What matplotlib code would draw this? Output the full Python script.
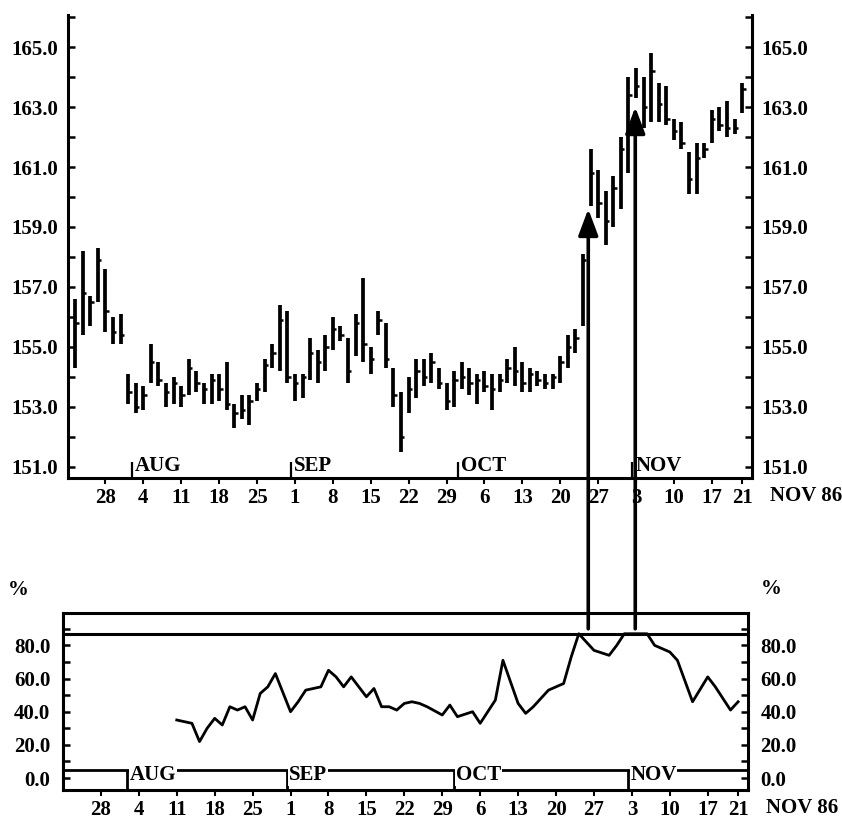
import pandas as pd
import matplotlib
matplotlib.use('Agg')
import matplotlib.pyplot as plt
from matplotlib.patches import ConnectionPatch
from matplotlib.ticker import FixedLocator, MultipleLocator
from matplotlib.transforms import blended_transform_factory

plt.rcParams['font.family'] = ['Liberation Serif', 'DejaVu Serif']
plt.rcParams['font.weight'] = 'bold'
plt.rcParams['font.size'] = 15

# daily bars, 22 Jul - 21 Nov 1986
dates = pd.bdate_range('1986-07-22', '1986-11-21')

highs = [156.6, 158.2, 156.7, 158.3, 157.6, 156.0, 156.1, 154.1, 153.8, 153.7,
         155.1, 154.5, 153.8, 154.0, 153.7, 154.6, 154.2, 153.8, 154.1, 154.1,
         154.5, 153.1, 153.4, 153.4, 153.8, 154.6, 155.1, 156.4, 156.2, 154.1,
         154.1, 155.3, 154.9, 155.4, 156.0, 155.7, 155.3, 156.1, 157.3, 155.0,
         156.2, 155.8, 154.3, 153.5, 154.0, 154.6, 154.6, 154.8, 154.3, 153.8,
         154.2, 154.5, 154.3, 154.1, 154.2, 154.1, 154.1, 154.6, 155.0, 154.5,
         154.3, 154.2, 154.1, 154.1, 154.7, 155.4, 155.6, 158.1, 161.6, 160.9,
         160.2, 160.7, 162.0, 164.0, 164.3, 164.0, 164.8, 163.8, 163.7, 162.6,
         162.5, 161.5, 161.8, 161.8, 162.9, 163.0, 163.2, 162.6, 163.8]
lows = [154.3, 155.4, 155.7, 156.5, 155.5, 155.1, 155.1, 153.1, 152.8, 152.9,
        153.8, 153.7, 153.0, 153.1, 153.0, 153.4, 153.5, 153.1, 153.1, 153.2,
        152.9, 152.3, 152.6, 152.4, 153.2, 153.5, 154.3, 154.2, 153.8, 153.2,
        153.3, 153.9, 153.8, 154.2, 154.9, 155.2, 153.8, 154.7, 154.5, 154.1,
        155.4, 154.3, 153.0, 151.5, 152.8, 153.3, 153.7, 153.8, 153.6, 152.9,
        153.0, 153.6, 153.4, 153.1, 153.5, 152.9, 153.5, 153.8, 153.7, 153.5,
        153.5, 153.7, 153.6, 153.6, 153.8, 154.3, 154.8, 155.7, 159.7, 159.3,
        158.4, 159.0, 159.6, 160.8, 163.3, 162.3, 162.5, 162.5, 162.4, 161.9,
        161.6, 160.1, 160.1, 161.3, 161.8, 162.2, 162.0, 162.1, 162.8]
closes = [155.8, 156.8, 156.5, 157.9, 156.2, 155.5, 155.4, 153.5, 153.0, 153.4,
          154.5, 153.9, 153.5, 153.8, 153.4, 154.3, 153.8, 153.6, 153.9, 153.6,
          153.1, 152.8, 152.9, 153.2, 153.6, 154.4, 154.8, 155.9, 154.0, 153.8,
          154.0, 154.8, 154.5, 155.0, 155.6, 155.4, 154.2, 155.8, 155.1, 154.6,
          155.9, 154.6, 153.4, 152.0, 153.6, 154.2, 154.0, 154.5, 153.8, 153.2,
          153.9, 154.0, 153.8, 153.9, 153.7, 153.6, 153.9, 154.3, 154.2, 153.8,
          154.1, 153.9, 153.8, 154.0, 154.5, 155.0, 155.3, 157.9, 160.8, 159.8,
          159.2, 160.3, 161.6, 163.4, 163.7, 163.0, 164.2, 163.1, 162.6, 162.2,
          161.8, 160.6, 161.3, 161.6, 162.6, 162.4, 162.3, 162.3, 163.6]

# oscillator (%) by trading-day index
osc_day = [14, 15, 16, 17, 18, 19, 20, 21, 22, 23, 24, 25, 26, 27, 29, 30, 31, 33, 34, 35,
           36, 37, 38, 39, 40, 41, 42, 43, 44, 45, 46, 47, 49, 50, 51, 53, 54, 56, 57, 59,
           60, 61, 63, 64, 65, 66, 67, 69, 71, 72, 73, 76, 77, 79, 80, 82, 84, 85, 87, 88]
osc_val = [35, 34, 33, 22, 30, 36, 32, 43, 41, 43, 35, 51, 55, 63, 40, 46, 53, 55, 65, 61,
           55, 61, 55, 49, 54, 43, 43, 41, 45, 46, 45, 43, 38, 44, 37, 40, 33, 47, 71, 45,
           39, 43, 53, 55, 57, 73, 87, 77, 74, 80, 87, 87, 80, 76, 71, 46, 61, 55, 41, 46]
osc_limit = 87

# buy signals: trading-day index and price the arrow points at
signal_day = [67.7, 73.9]
signal_price = [159.6, 163.0]

price_ticks = [151, 153, 155, 157, 159, 161, 163, 165]
pct_ticks = [0, 20, 40, 60, 80]

x = list(range(len(dates)))
mondays = [i for i, d in enumerate(dates) if d.weekday() == 0] + [len(dates) - 1]
day_labels = [str(dates[i].day) for i in mondays]
month_start = [i for i in range(1, len(dates)) if dates[i].month != dates[i - 1].month]
month_names = [dates[i].strftime('%b').upper() for i in month_start]

fig = plt.figure(figsize=(8.42, 8.19), dpi=100)
ax1 = fig.add_axes([0.0802, 0.4164, 0.8129, 0.5653])
ax2 = fig.add_axes([0.0748, 0.0354, 0.8135, 0.2161])

xlim = (-1.0, 89.3)

# price bars
ax1.vlines(x, lows, highs, color='k', lw=2.7)
ax1.hlines(closes, [i for i in x], [i + 0.45 for i in x], color='k', lw=1.8)
ax1.set_xlim(*xlim)
ax1.set_ylim(150.63, 166.07)
ax1.spines['top'].set_visible(False)
for s in ['left', 'right', 'bottom']:
    ax1.spines[s].set_linewidth(2.2)
ax1.yaxis.set_major_locator(FixedLocator(price_ticks))
ax1.yaxis.set_minor_locator(MultipleLocator(2))
ax1.set_yticklabels(['%.1f' % v for v in price_ticks])
ax1.tick_params(axis='y', which='both', direction='in', length=5, width=1.8,
                left=True, right=True, labelleft=True, labelright=True, pad=7)
ax1.set_xticks(mondays)
ax1.set_xticklabels(day_labels)
ax1.tick_params(axis='x', direction='out', length=4, width=1.5, pad=3)
for b, name in zip(month_start, month_names):
    ax1.vlines(b - 0.5, 150.63, 151.15, color='k', lw=1.6)
    ax1.text(b - 0.1, 150.68, name, ha='left', va='bottom')
ax1.annotate('NOV 86', xy=(1, 0), xycoords='axes fraction', xytext=(13, -6),
             textcoords='offset points', ha='left', va='top')

# oscillator panel
ax2.plot(osc_day, osc_val, color='k', lw=2)
ax2.axhline(osc_limit, color='k', lw=2.2)
ax2.set_xlim(*xlim)
ax2.set_ylim(-7.2, 99.5)
for s in ax2.spines.values():
    s.set_linewidth(2.2)
ax2.yaxis.set_major_locator(FixedLocator(pct_ticks))
ax2.yaxis.set_minor_locator(MultipleLocator(10))
ax2.set_yticklabels(['%.1f' % v for v in pct_ticks])
ax2.tick_params(axis='y', which='both', direction='in', length=5, width=1.8,
                left=True, right=True, labelleft=True, labelright=True, pad=9)
ax2.set_xticks(mondays)
ax2.set_xticklabels(day_labels)
ax2.tick_params(axis='x', direction='out', length=4, width=1.5, pad=3)
ax2.axhline(4.8, color='k', lw=2)
for b, name in zip(month_start, month_names):
    ax2.vlines(b - 0.5, -7.2, 4.8, color='k', lw=2)
    ax2.text(b - 0.2, 1.6, name, ha='left', va='center', zorder=5,
             bbox=dict(facecolor='white', edgecolor='none', pad=0.5))
ax2.annotate('NOV 86', xy=(1, 0), xycoords='axes fraction', xytext=(13, -6),
             textcoords='offset points', ha='left', va='top')

fig.text(18 / 842, 1 - 590 / 819, '%', ha='center', va='center')
fig.text(771 / 842, 1 - 589 / 819, '%', ha='center', va='center')

# arrows from the oscillator peaks up to the price bars
start_tr = blended_transform_factory(ax1.transData, ax2.transData)
for d, p in zip(signal_day, signal_price):
    arrow = ConnectionPatch(xyA=(d, 90), coordsA=start_tr, xyB=(d, p), coordsB=ax1.transData,
                            arrowstyle='-|>,head_length=0.8,head_width=0.3',
                            mutation_scale=20, lw=2.6, color='k')
    fig.add_artist(arrow)

fig.savefig('out.png', dpi=100)
